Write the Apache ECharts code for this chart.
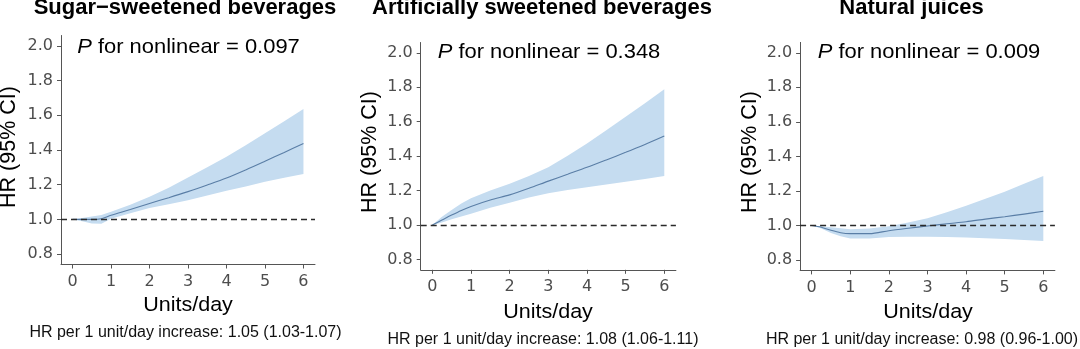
<!DOCTYPE html>
<html><head><meta charset="utf-8">
<script src="https://cdn.jsdelivr.net/npm/echarts@6/dist/echarts.min.js"></script>
<style>html,body{margin:0;padding:0;background:#fff}#c{width:1080px;height:349px}</style>
</head><body><div id="c"></div>
<script>
// ---- data ----
const unitsX = [0, 0.25, 0.5, 0.75, 1, 1.5, 2, 2.5, 3, 3.5, 4, 4.5, 5, 5.5, 6];
const xTicks = [0, 1, 2, 3, 4, 5, 6];
const yTicks = [0.8, 1.0, 1.2, 1.4, 1.6, 1.8, 2.0];

const panelTitles = ['Sugar\u2212sweetened beverages', 'Artificially sweetened beverages', 'Natural juices'];
const pNonlinear = ['0.097', '0.348', '0.009'];
const perUnitText = [
  'HR per 1 unit/day increase: 1.05 (1.03-1.07)',
  'HR per 1 unit/day increase: 1.08 (1.06-1.11)',
  'HR per 1 unit/day increase: 0.98 (0.96-1.00)'
];

const ssbHR    = [1.0, 1.0, 1.0, 1.004, 1.024, 1.057, 1.092, 1.125, 1.16, 1.198, 1.238, 1.285, 1.335, 1.386, 1.438];
const ssbUpper = [1.0, 1.008, 1.016, 1.026, 1.044, 1.085, 1.13, 1.183, 1.242, 1.3, 1.361, 1.428, 1.496, 1.566, 1.636];
const ssbLower = [1.0, 0.989, 0.977, 0.975, 1.004, 1.036, 1.066, 1.088, 1.11, 1.138, 1.165, 1.19, 1.217, 1.24, 1.262];

const asbHR    = [1.0, 1.029, 1.058, 1.085, 1.108, 1.145, 1.175, 1.213, 1.255, 1.295, 1.335, 1.378, 1.422, 1.468, 1.517];
const asbUpper = [1.0, 1.048, 1.087, 1.125, 1.155, 1.2, 1.24, 1.285, 1.335, 1.402, 1.474, 1.55, 1.629, 1.707, 1.788];
const asbLower = [1.0, 1.014, 1.033, 1.05, 1.066, 1.1, 1.13, 1.16, 1.184, 1.203, 1.219, 1.236, 1.252, 1.268, 1.285];

const njHR    = [1.0, 0.99, 0.972, 0.958, 0.953, 0.953, 0.97, 0.984, 0.997, 1.01, 1.022, 1.037, 1.051, 1.066, 1.082];
const njUpper = [1.0, 0.996, 0.99, 0.984, 0.978, 0.982, 0.996, 1.017, 1.042, 1.077, 1.115, 1.155, 1.196, 1.241, 1.287];
const njLower = [1.0, 0.982, 0.957, 0.937, 0.924, 0.925, 0.933, 0.935, 0.935, 0.933, 0.93, 0.926, 0.922, 0.916, 0.910];

// ---- layout ----
const FONT = '"Liberation Sans", Arial, Helvetica, sans-serif';
const TICKFONT = '"DejaVu Sans", "Liberation Sans", sans-serif';
const grids = [
  {left: 61, top: 35.5, width: 254, height: 229},
  {left: 420.7, top: 42.5, width: 255.2, height: 227.3},
  {left: 800.1, top: 42.4, width: 254.8, height: 228}
];
const titlePos = [[185, 8], [542, 8], [911.5, 8]];
const pPos = [[188.5, 47], [549, 52], [929, 52]];
const yNamePos = [[9.5, 147], [370, 152], [750, 152]];
const xNamePos = [[188, 305], [548, 312], [928, 312]];
const notePos = [[185.5, 333], [543, 340], [922, 340]];

const hrSets = [ssbHR, asbHR, njHR];
const upSets = [ssbUpper, asbUpper, njUpper];
const loSets = [ssbLower, asbLower, njLower];

const axisGray = '#555555';
const labelGray = '#4d4d4d';
const bandColor = '#c5dcf0';
const lineColor = '#5a7ea6';

const xAxes = [], yAxes = [], series = [], graphics = [];
for (let i = 0; i < 3; i++) {
  xAxes.push({
    type: 'value', gridIndex: i, min: -0.3, max: 6.3,
    axisLine: {show: true, onZero: false, lineStyle: {color: axisGray, width: 1}},
    axisTick: {show: true, length: 4, customValues: xTicks, lineStyle: {color: axisGray}},
    axisLabel: {customValues: xTicks, margin: 9, color: labelGray, fontSize: 16, fontFamily: TICKFONT},
    splitLine: {show: false}
  });
  yAxes.push({
    type: 'value', gridIndex: i, min: 0.74, max: 2.06,
    axisLine: {show: true, onZero: false, lineStyle: {color: axisGray, width: 1}},
    axisTick: {show: true, length: 4, customValues: yTicks, lineStyle: {color: axisGray}},
    axisLabel: {customValues: yTicks, margin: 8, color: labelGray, fontSize: 16, fontFamily: TICKFONT,
      formatter: v => Number(v).toFixed(1)},
    splitLine: {show: false}
  });
  const up = upSets[i], lo = loSets[i];
  series.push({
    type: 'custom', xAxisIndex: i, yAxisIndex: i, silent: true, z: 1,
    data: [[0, 1]],
    renderItem: function (params, api) {
      const pts = [];
      for (let k = 0; k < unitsX.length; k++) pts.push(api.coord([unitsX[k], up[k]]));
      for (let k = unitsX.length - 1; k >= 0; k--) pts.push(api.coord([unitsX[k], lo[k]]));
      return {type: 'polygon', shape: {points: pts}, style: {fill: bandColor, stroke: null}};
    }
  });
  series.push({
    type: 'line', xAxisIndex: i, yAxisIndex: i, z: 3,
    data: unitsX.map((x, k) => [x, hrSets[i][k]]),
    smooth: 0.3, symbol: 'none', silent: true,
    lineStyle: {color: lineColor, width: 1.1},
    markLine: {
      silent: true, symbol: 'none', label: {show: false},
      lineStyle: {color: '#2a2a2a', type: [6, 4], width: 1.3},
      data: [{yAxis: 1}]
    }
  });
  graphics.push({
    type: 'text', x: titlePos[i][0], y: titlePos[i][1],
    style: {text: panelTitles[i], font: 'bold 22px ' + FONT, fill: '#000', textAlign: 'center', textVerticalAlign: 'middle'}
  });
  graphics.push({
    type: 'text', x: pPos[i][0], y: pPos[i][1], scaleX: 1.045,
    style: {
      text: '{i|P} for nonlinear = ' + pNonlinear[i],
      fontSize: 21, fontFamily: FONT, fill: '#000', textAlign: 'center', textVerticalAlign: 'middle',
      rich: {i: {fontStyle: 'italic', fontSize: 21, fontFamily: FONT, fill: '#000'}}
    }
  });
  graphics.push({
    type: 'text', x: yNamePos[i][0], y: yNamePos[i][1], rotation: Math.PI / 2,
    style: {text: 'HR (95% CI)', fontSize: 21.5, fontFamily: FONT, fill: '#000', textAlign: 'center', textVerticalAlign: 'middle'}
  });
  graphics.push({
    type: 'text', x: xNamePos[i][0], y: xNamePos[i][1], scaleX: 1.05,
    style: {text: 'Units/day', fontSize: 20.5, fontFamily: FONT, fill: '#000', textAlign: 'center', textVerticalAlign: 'middle'}
  });
  graphics.push({
    type: 'text', x: notePos[i][0], y: notePos[i][1],
    style: {text: perUnitText[i], fontSize: 16, fontFamily: FONT, fill: '#111', textAlign: 'center', textVerticalAlign: 'middle'}
  });
}

const chart = echarts.init(document.getElementById('c'), null, {renderer: 'canvas'});
chart.setOption({
  animation: false,
  backgroundColor: '#fff',
  grid: grids,
  xAxis: xAxes,
  yAxis: yAxes,
  series: series,
  graphic: graphics
});
</script>
</body></html>
